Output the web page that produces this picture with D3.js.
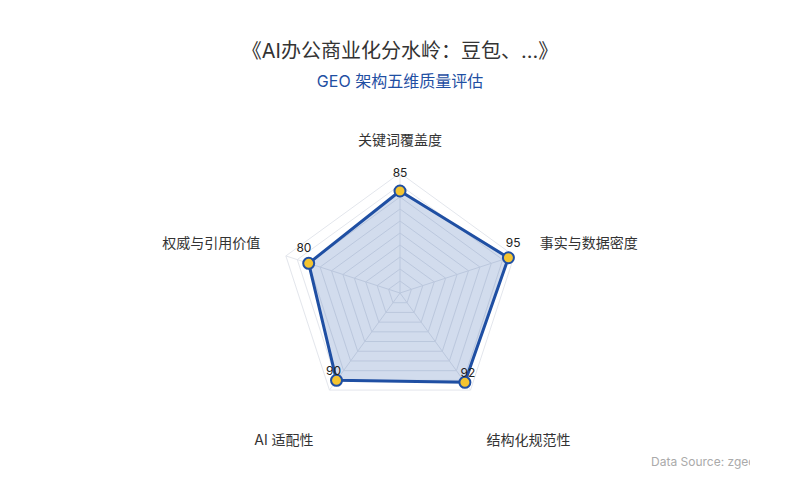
<!DOCTYPE html>
<html>
<head>
<meta charset="utf-8">
<script src="https://cdn.jsdelivr.net/npm/d3@7"></script>
<style>
  body { margin: 0; background: #fff; }
  text { font-family: Inter, "Noto Sans CJK SC", sans-serif; }
</style>
</head>
<body>
<div id="chart"></div>
<script>
// Chart data
var titleText = "《AI办公商业化分水岭：豆包、...》";
var subtitleText = "GEO 架构五维质量评估";
var sourceText = "Data Source: zgeo";
var axisNames = ["关键词覆盖度", "事实与数据密度", "结构化规范性", "AI 适配性", "权威与引用价值"];
var scores = [85, 95, 92, 90, 80];
var maxScore = 100;
var gridLevels = 10;

// SVG size
var svgWidth = 800;
var svgHeight = 500;

// Radar geometry
var cx = 400;
var cy = 293;
var radius = 120;

var svg = d3
  .select("#chart")
  .append("svg")
  .attr("width", svgWidth)
  .attr("height", svgHeight);

// radial scale from score to pixels
var rScale = d3.scaleLinear().domain([0, maxScore]).range([0, radius]);

// angle for each axis, starting at the top and going clockwise
var angleScale = d3
  .scalePoint()
  .domain(d3.range(axisNames.length + 1))
  .range([0, 2 * Math.PI]);

function pointAt(i, r) {
  var a = angleScale(i);
  return [cx + r * Math.sin(a), cy - r * Math.cos(a)];
}

var lineGen = d3.line().curve(d3.curveLinearClosed);

// Draw the grid rings
var levels = d3.range(1, gridLevels + 1).map((l) => (maxScore / gridLevels) * l);
svg
  .append("g")
  .selectAll("path")
  .data(levels)
  .enter()
  .append("path")
  .attr("d", (v) => lineGen(axisNames.map((n, i) => pointAt(i, rScale(v)))))
  .attr("fill", "none")
  .attr("stroke", "#e3e6ec")
  .attr("stroke-width", 1);

// Draw the spokes
svg
  .append("g")
  .selectAll("line")
  .data(axisNames)
  .enter()
  .append("line")
  .attr("x1", cx)
  .attr("y1", cy)
  .attr("x2", (d, i) => pointAt(i, radius)[0])
  .attr("y2", (d, i) => pointAt(i, radius)[1])
  .attr("stroke", "#e3e6ec")
  .attr("stroke-width", 1);

// Draw the data area
var dataPoints = scores.map((s, i) => pointAt(i, rScale(s)));
svg
  .append("path")
  .attr("d", lineGen(dataPoints))
  .attr("fill", "rgba(31, 79, 163, 0.2)")
  .attr("stroke", "#1f4fa3")
  .attr("stroke-width", 3)
  .attr("stroke-linejoin", "round");

// Draw the markers
svg
  .append("g")
  .selectAll("circle")
  .data(scores)
  .enter()
  .append("circle")
  .attr("cx", (d, i) => dataPoints[i][0])
  .attr("cy", (d, i) => dataPoints[i][1])
  .attr("r", 5.5)
  .attr("fill", "#f4c430")
  .attr("stroke", "#1f4fa3")
  .attr("stroke-width", 2);

// Value labels, nudged outward and lifted above the marker
svg
  .append("g")
  .selectAll("text")
  .data(scores)
  .enter()
  .append("text")
  .attr("x", (d, i) => pointAt(i, rScale(d) + 5)[0])
  .attr("y", (d, i) => pointAt(i, rScale(d) + 5)[1] - 14)
  .attr("text-anchor", "middle")
  .attr("dominant-baseline", "central")
  .attr("font-size", 12)
  .attr("fill", "#222")
  .text((d) => d);

// Axis names
var nameRadius = radius + 27;
svg
  .append("g")
  .selectAll("text")
  .data(axisNames)
  .enter()
  .append("text")
  .attr("x", (d, i) => pointAt(i, nameRadius)[0])
  .attr("y", (d, i) => {
    var c = Math.cos(angleScale(i));
    // bottom names sit lower, top name just above its anchor
    return pointAt(i, nameRadius)[1] + (c < -0.5 ? 33 : c > 0.9 ? -1 : 0);
  })
  .attr("text-anchor", (d, i) => {
    var s = Math.sin(angleScale(i));
    return Math.abs(s) < 0.01 ? "middle" : s > 0 ? "start" : "end";
  })
  .attr("font-size", 14)
  .attr("fill", "#333")
  .text((d) => d);

// Title and subtitle
svg
  .append("text")
  .attr("x", svgWidth / 2)
  .attr("y", 58)
  .attr("text-anchor", "middle")
  .attr("font-size", 20)
  .attr("fill", "#333")
  .text(titleText);

svg
  .append("text")
  .attr("x", svgWidth / 2)
  .attr("y", 87)
  .attr("text-anchor", "middle")
  .attr("font-size", 16)
  .attr("fill", "#1f4fa3")
  .text(subtitleText);

// Source note, clipped on the right like the original
svg
  .append("clipPath")
  .attr("id", "srcClip")
  .append("rect")
  .attr("x", 0)
  .attr("y", 0)
  .attr("width", 750)
  .attr("height", svgHeight);

svg
  .append("text")
  .attr("x", 651)
  .attr("y", 466)
  .attr("clip-path", "url(#srcClip)")
  .attr("font-size", 12)
  .attr("fill", "#aaa")
  .text(sourceText);
</script>
</body>
</html>
